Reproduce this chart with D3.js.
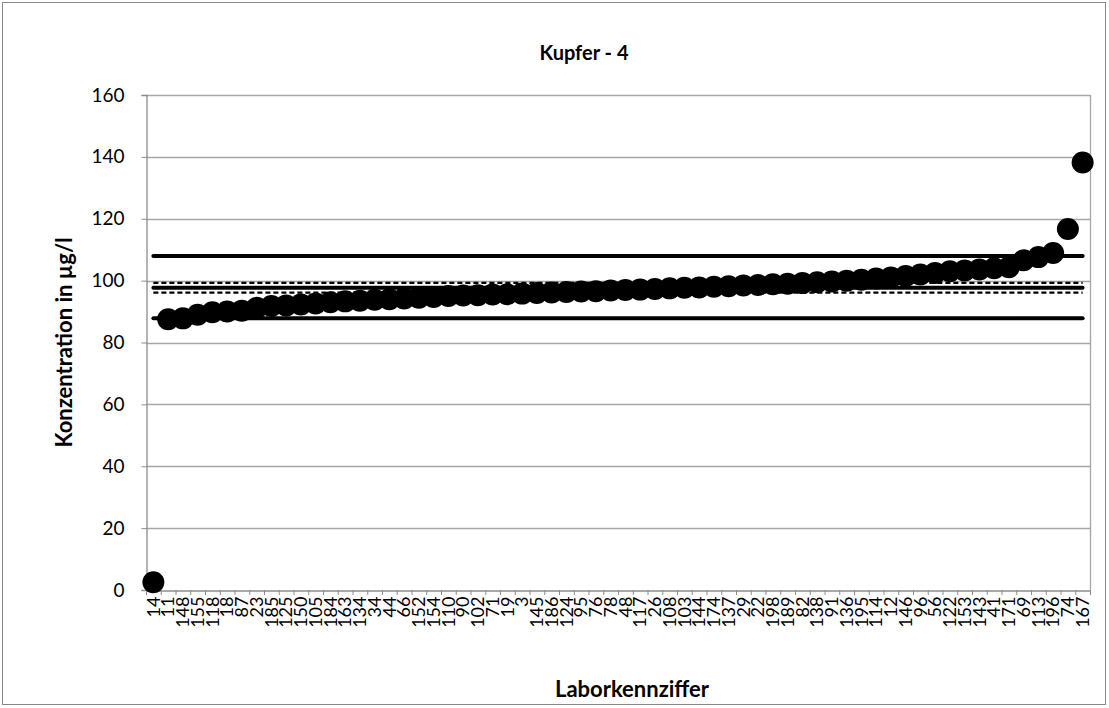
<!DOCTYPE html>
<html><head><meta charset="utf-8">
<script src="https://cdn.jsdelivr.net/npm/d3@7"></script>
<style>body{margin:0;background:#fff}svg{display:block}text{font-family:Lato,"Liberation Sans",sans-serif}</style>
</head><body>
<script>
const labels = ["14","11","148","155","118","18","87","23","185","125","150","105","184","163","134","34","44","66","152","154","110","90","102","71","19","3","145","186","124","95","76","78","48","117","26","108","103","144","174","137","29","22","198","189","82","138","91","136","195","114","12","146","96","56","122","153","143","41","171","69","113","196","74","167"];
const values = [2.5,87.5,87.8,89.0,89.8,90.0,90.3,91.2,91.8,92.0,92.3,92.6,93.0,93.3,93.5,93.8,94.0,94.2,94.5,94.7,95.0,95.2,95.3,95.5,95.6,95.8,96.0,96.2,96.3,96.5,96.6,96.8,97.0,97.1,97.3,97.5,97.7,97.8,98.0,98.2,98.4,98.6,98.8,99.0,99.2,99.5,99.7,100.0,100.3,100.7,101.0,101.5,102.0,102.5,103.0,103.3,103.6,104.0,104.3,106.6,107.6,108.9,116.7,138.2];
const yTicks = [0,20,40,60,80,100,120,140,160];
const assigned = 97.7;
const toleranceLimits = [87.8, 108.0];
const confidenceLimits = [96.1, 99.3];

const W = 1109, H = 708;
const L = 146, R = 1090, T = 95, B = 590;
const svg = d3.select("body").append("svg").attr("width", W).attr("height", H);
svg.append("rect").attr("x",2.5).attr("y",2.5).attr("width",W-6).attr("height",H-6)
  .attr("fill","#fff").attr("stroke","#888").attr("stroke-width",1);

const x = d3.scaleBand().domain(d3.range(labels.length)).range([L, R]);
const y = d3.scaleLinear().domain([0,160]).range([B, T]);

// gridlines
svg.append("g").selectAll("line").data(yTicks.filter(d=>d>0)).join("line")
  .attr("x1",L).attr("x2",R).attr("y1",d=>Math.round(y(d))+0.5).attr("y2",d=>Math.round(y(d))+0.5)
  .attr("stroke","#a6a6a6").attr("stroke-width",1.3);
svg.append("line").attr("x1",R+0.5).attr("x2",R+0.5).attr("y1",T).attr("y2",B).attr("stroke","#a6a6a6").attr("stroke-width",1.3);

// y axis
const yAxis = d3.axisLeft(y).tickValues(yTicks).tickSize(5).tickPadding(17);
const gy = svg.append("g").attr("transform",`translate(${L+0.5},0)`).call(yAxis);
gy.select(".domain").attr("stroke","#8c8c8c").attr("stroke-width",1.3);
gy.selectAll(".tick line").attr("stroke","#8c8c8c");
gy.selectAll(".tick text").attr("font-size",19).attr("fill","#000").attr("font-family","Lato");

// x axis
const xAxis = d3.axisBottom(x).tickFormat(i=>labels[i]).tickSize(0).tickPadding(0);
const gx = svg.append("g").attr("transform",`translate(0,${B+0.5})`).call(xAxis);
gx.select(".domain").attr("stroke","#8c8c8c").attr("stroke-width",1.3);
gx.selectAll(".tick text").attr("font-size",18).attr("fill","#000")
  .attr("transform","rotate(-90)").attr("text-anchor","end").attr("dy","0.35em").attr("x",-6).attr("y",0);
svg.append("g").selectAll("line").data(d3.range(labels.length+1)).join("line")
  .attr("x1",i=>(i<labels.length?x(i):R)+0.5).attr("x2",i=>(i<labels.length?x(i):R)+0.5)
  .attr("y1",B).attr("y2",B+5).attr("stroke","#8c8c8c").attr("stroke-width",1);

// points
svg.append("g").selectAll("circle").data(values).join("circle")
  .attr("cx",(d,i)=>x(i)+x.bandwidth()/2).attr("cy",d=>y(d)).attr("r",11).attr("fill","#000");

// reference lines
const x0 = x(0)+x.bandwidth()/2, x1 = x(labels.length-1)+x.bandwidth()/2;
function hline(v, w, dash){
  svg.append("line").attr("x1",x0).attr("x2",x1).attr("y1",y(v)).attr("y2",y(v))
    .attr("stroke","#000").attr("stroke-width",w).attr("stroke-dasharray",dash||null).attr("stroke-linecap", dash?"butt":"round");
}
toleranceLimits.forEach(v=>hline(v,4));
hline(assigned,4);
confidenceLimits.forEach(v=>hline(v,2.2,"5,3"));

// titles
svg.append("text").attr("x",584).attr("y",60).attr("text-anchor","middle").attr("font-size",20).attr("font-weight","bold").text("Kupfer - 4");
svg.append("text").attr("transform",`translate(72,${(T+B)/2}) rotate(-90)`).attr("text-anchor","middle").attr("font-size",22).attr("font-weight","bold").text("Konzentration in µg/l");
svg.append("text").attr("x",632).attr("y",697).attr("text-anchor","middle").attr("font-size",22).attr("font-weight","bold").text("Laborkennziffer");
</script>
</body></html>
